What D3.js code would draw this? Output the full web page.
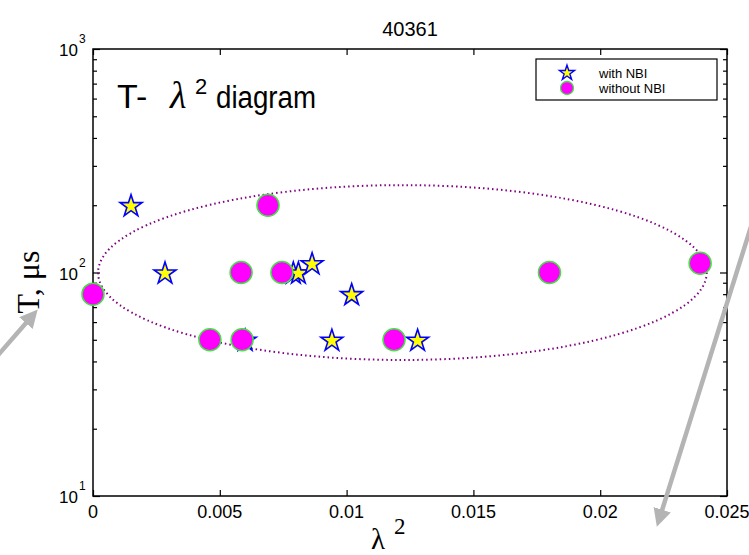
<!DOCTYPE html>
<html>
<head>
<meta charset="UTF-8" />
<title>40361</title>
<script src="https://cdn.jsdelivr.net/npm/d3@7"></script>
<style>
  body { margin: 0; background: #ffffff; }
  svg { display: block; font-family: Arial, "Liberation Sans", sans-serif; }
</style>
</head>
<body>
<svg id="chart" width="749" height="555"></svg>
<script>
// with NBI (stars)
var nbiX = [0.0015, 0.00284, 0.0060, 0.0079, 0.0081, 0.00864, 0.0102, 0.00942, 0.0128]
var nbiT = [200, 100, 50, 100, 100, 110, 80, 50, 50]
// without NBI (circles)
var noNbiX = [0, 0.0069, 0.00584, 0.00745, 0.00461, 0.00588, 0.01187, 0.0180, 0.02394]
var noNbiT = [80, 200, 100, 100, 50, 50, 50, 100, 110]
// dotted ellipse, given by its extent in data units
var ellipseX = [0.0002, 0.0242]
var ellipseT = [40.6, 246]

var xTicks = [0, 0.005, 0.01, 0.015, 0.02, 0.025]
var xTickLabels = ["0", "0.005", "0.01", "0.015", "0.02", "0.025"]
var yMajor = [10, 100, 1000]
var yExp = ["1", "2", "3"]
var legendLabels = ["with NBI", "without NBI"]

function drawChart() {
    var svg = d3.select("#chart")
    var pl = 93, pr = 727, pt = 49, pb = 496

    var xScale = d3.scaleLinear().domain([0, 0.025]).range([pl, pr])
    var yScale = d3.scaleLog().domain([10, 1000]).range([pb, pt])

    var yMinor = []
    for (var d = 10; d < 1000; d *= 10) {
        for (var m = 2; m <= 9; m++) yMinor.push(d * m)
    }

    // ticks on all four sides, pointing in
    function yAx(side, vals, len) {
        var ax = (side == "l" ? d3.axisLeft(yScale) : d3.axisRight(yScale))
            .tickValues(vals).tickSize(-len).tickFormat("")
        var g = svg.append("g")
            .attr("transform", "translate(" + (side == "l" ? pl : pr) + ",0)")
            .call(ax)
        g.select(".domain").remove()
        g.selectAll("line").attr("stroke", "#000").attr("stroke-width", 1.2)
    }
    yAx("l", yMajor, 7); yAx("l", yMinor, 4)
    yAx("r", yMajor, 7); yAx("r", yMinor, 4)

    function xAx(side) {
        var ax = (side == "b" ? d3.axisBottom(xScale) : d3.axisTop(xScale))
            .tickValues(xTicks).tickSize(-6).tickFormat("")
        var g = svg.append("g")
            .attr("transform", "translate(0," + (side == "b" ? pb : pt) + ")")
            .call(ax)
        g.select(".domain").remove()
        g.selectAll("line").attr("stroke", "#000").attr("stroke-width", 1.2)
    }
    xAx("b"); xAx("t")

    svg.append("rect")
        .attr("x", pl).attr("y", pt)
        .attr("width", pr - pl).attr("height", pb - pt)
        .attr("fill", "none").attr("stroke", "#000").attr("stroke-width", 1.5)

    // tick labels
    svg.selectAll("text.xt").data(xTicks).enter().append("text")
        .attr("class", "xt")
        .attr("x", d => xScale(d)).attr("y", pb + 22)
        .attr("text-anchor", "middle")
        .style("font-size", "18px")
        .text((d, i) => xTickLabels[i])

    svg.selectAll("text.yt").data(yMajor).enter().append("text")
        .attr("class", "yt")
        .attr("x", pl - 15).attr("y", d => yScale(d) + 7)
        .attr("text-anchor", "end")
        .style("font-size", "17px")
        .text("10")
    svg.selectAll("text.ye").data(yMajor).enter().append("text")
        .attr("class", "ye")
        .attr("x", pl - 14).attr("y", d => yScale(d) - 6)
        .style("font-size", "12px")
        .text((d, i) => yExp[i])

    // title and axis names
    svg.append("text").attr("x", (pl + pr) / 2).attr("y", 36)
        .attr("text-anchor", "middle").style("font-size", "20px").text("40361")

    var xl = svg.append("text").attr("x", 371).attr("y", 549)
        .style("font-family", "'Liberation Serif', 'Times New Roman', serif")
        .style("font-size", "29px")
    xl.append("tspan").text("λ")
    xl.append("tspan").attr("dx", 9).attr("dy", -15).style("font-size", "23px").text("2")

    svg.append("text")
        .attr("transform", "translate(39,282) rotate(-90)")
        .attr("text-anchor", "middle")
        .style("font-family", "'Liberation Serif', 'Times New Roman', serif")
        .style("font-size", "32px")
        .text("T, μs")

    // in-plot heading
    var hd = svg.append("g").style("font-size", "34px")
    hd.append("text").attr("x", 117).attr("y", 108).text("T-")
    hd.append("text").attr("x", 170).attr("y", 108)
        .style("font-family", "'Liberation Serif', 'Times New Roman', serif")
        .style("font-style", "italic").style("font-size", "38px").text("λ")
    hd.append("text").attr("x", 195).attr("y", 94).style("font-size", "22px").text("2")
    hd.append("text").attr("x", 216).attr("y", 108).style("font-size", "31px")
        .attr("textLength", 100).attr("lengthAdjust", "spacingAndGlyphs").text("diagram")

    // ellipse
    svg.append("ellipse")
        .attr("cx", (xScale(ellipseX[0]) + xScale(ellipseX[1])) / 2)
        .attr("cy", (yScale(ellipseT[0]) + yScale(ellipseT[1])) / 2)
        .attr("rx", (xScale(ellipseX[1]) - xScale(ellipseX[0])) / 2)
        .attr("ry", (yScale(ellipseT[0]) - yScale(ellipseT[1])) / 2)
        .attr("fill", "none").attr("stroke", "#800080")
        .attr("stroke-width", 2).attr("stroke-dasharray", "1.5,3")

    // markers
    var star = d3.symbol().type(d3.symbolStar).size(150)
    svg.selectAll("path.star").data(nbiX).enter().append("path")
        .attr("class", "star")
        .attr("d", star)
        .attr("transform", (d, i) => "translate(" + xScale(d) + "," + (yScale(nbiT[i]) + 1) + ")")
        .attr("fill", "#ffff00").attr("stroke", "#0000ff").attr("stroke-width", 1.6)

    svg.selectAll("circle.pt").data(noNbiX).enter().append("circle")
        .attr("class", "pt")
        .attr("cx", d => xScale(d)).attr("cy", (d, i) => yScale(noNbiT[i]))
        .attr("r", 11)
        .attr("fill", "#ff00ff").attr("stroke", "#44e044").attr("stroke-width", 1.5)

    // legend
    var lg = svg.append("g")
    lg.append("rect").attr("x", 536).attr("y", 59).attr("width", 181).attr("height", 41)
        .attr("fill", "#fff").attr("stroke", "#000").attr("stroke-width", 1.2)
    lg.append("path").attr("d", d3.symbol().type(d3.symbolStar).size(70))
        .attr("transform", "translate(567,73)")
        .attr("fill", "#ffff00").attr("stroke", "#0000ff").attr("stroke-width", 1.4)
    lg.append("circle").attr("cx", 567).attr("cy", 88).attr("r", 6.5)
        .attr("fill", "#ff00ff").attr("stroke", "#44e044").attr("stroke-width", 1.3)
    lg.selectAll("text").data(legendLabels).enter().append("text")
        .attr("x", 599).attr("y", (d, i) => 78 + i * 15)
        .style("font-size", "13px").text(d => d)

    // grey pointer arrows
    svg.append("defs").append("marker")
        .attr("id", "head").attr("viewBox", "0 0 10 10")
        .attr("refX", 6).attr("refY", 5)
        .attr("markerWidth", 4).attr("markerHeight", 4)
        .attr("orient", "auto")
        .append("path").attr("d", "M0,0 L10,5 L0,10 z").attr("fill", "#b4b4b4")

    var arrows = [[[-8, 362], [33, 315]], [[775, 150], [659, 520]]]
    arrows.forEach(a => {
        svg.append("line")
            .attr("x1", a[0][0]).attr("y1", a[0][1])
            .attr("x2", a[1][0]).attr("y2", a[1][1])
            .attr("stroke", "#b4b4b4").attr("stroke-width", 4.5)
            .attr("marker-end", "url(#head)")
    })
}

drawChart()
</script>
</body>
</html>
